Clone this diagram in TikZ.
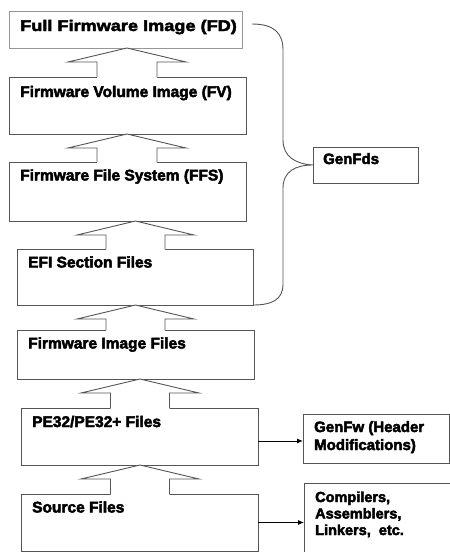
\documentclass[tikz,border=0pt]{standalone}
\usepackage{fontspec}
\usetikzlibrary{calc,arrows.meta}
\newfontfamily\lblfont{Liberation Sans}[FakeBold=3]
\newfontfamily\widefont{Liberation Sans}[FakeBold=3,FakeStretch=1.17]
\definecolor{linec}{RGB}{85,85,85}
\definecolor{lightline}{RGB}{150,150,150}
\tikzset{
  box/.style={draw=linec, line width=0.9pt, fill=white, inner sep=0pt, outer sep=0pt, anchor=north west},
  lbl/.style={font=\lblfont\bfseries\fontsize{15.5}{18}\selectfont, inner sep=0pt, anchor=base west},
  sidelbl/.style={font=\lblfont\bfseries\fontsize{15}{18}\selectfont, inner sep=0pt, anchor=base west},
  arrline/.style={draw=linec, line width=0.9pt, line join=miter},
  conn/.style={draw=black, line width=0.9pt, -{Latex[length=6pt,width=5pt]}},
}
% block arrow pointing up: #1 centre x, #2 head half width, #3 shaft half width,
% #4 upper node, #5 lower node
\newcommand\blockup[5]{%
  \fill[white] let \p1=(#4.south), \p2=(#5.north) in
    (#1pt,\y1) -- (#1pt-#2pt,\y1-14pt) -- (#1pt-#3pt,\y1-14pt) -- (#1pt-#3pt,\y2-1.2pt)
    -- (#1pt+#3pt,\y2-1.2pt) -- (#1pt+#3pt,\y1-14pt) -- (#1pt+#2pt,\y1-14pt) -- cycle;
  \draw[arrline] let \p1=(#4.south), \p2=(#5.north) in
    (#1pt-#3pt,\y2) -- (#1pt-#3pt,\y1-14pt) -- (#1pt-#2pt,\y1-14pt) -- (#1pt,\y1)
    -- (#1pt+#2pt,\y1-14pt) -- (#1pt+#3pt,\y1-14pt) -- (#1pt+#3pt,\y2);
}
\begin{document}
\begin{tikzpicture}[x=1pt,y=-1pt]
\useasboundingbox (0,0) rectangle (450,552);
\clip (0,0) rectangle (450,552);

% stack of build stages
\node[box, draw=lightline, minimum width=233pt, minimum height=37pt] (fd) at (9,11) {};
\node[box, minimum width=237pt, minimum height=57pt] (fv) at (9,77) {};
\node[box, minimum width=237pt, minimum height=59pt] (ffs) at (9,162) {};
\node[box, minimum width=236pt, minimum height=56pt] (efi) at (17,249) {};
\node[box, minimum width=237pt, minimum height=49pt] (fif) at (17,330) {};
\node[box, minimum width=237pt, minimum height=57pt] (pe) at (21,408) {};
\node[box, minimum width=237pt, minimum height=57pt] (sf) at (21,494) {};

% tools
\node[box, minimum width=105pt, minimum height=36pt] (gfds) at (313,147) {};
\node[box, minimum width=146pt, minimum height=49pt] (gfw) at (303,414) {};
\node[box, minimum width=160pt, minimum height=90pt] (comp) at (304,483) {};

% labels
\node[lbl, font=\widefont\bfseries\fontsize{15.5}{18}\selectfont] (fdt) at ($(fd.north west)+(11,20)$) {Full Firmware Image (FD)};
\node[lbl] (fvt) at ($(fv.north west)+(11,20)$) {Firmware Volume Image (FV)};
\node[lbl] (ffst) at ($(ffs.north west)+(11,18.5)$) {Firmware File System (FFS)};
\node[lbl] (efit) at ($(efi.north west)+(11,18.5)$) {EFI Section Files};
\node[lbl] (fift) at ($(fif.north west)+(11,18.5)$) {Firmware Image Files};
\node[lbl] (pet) at ($(pe.north west)+(11,19)$) {PE32/PE32+ Files};
\node[lbl] (sft) at ($(sf.north west)+(11,18.5)$) {Source Files};

\node[sidelbl] (gfdst) at ($(gfds.north west)+(10,17)$) {GenFds};
\node[sidelbl] (gfwa) at ($(gfw.north west)+(11,18)$) {GenFw (Header};
\node[sidelbl] (gfwb) at ($(gfw.north west)+(11,36)$) {Modifications)};
\node[sidelbl, font=\lblfont\bfseries\fontsize{14.5}{17}\selectfont] (cmpa) at ($(comp.north west)+(11,19)$) {Compilers,};
\node[sidelbl, font=\lblfont\bfseries\fontsize{14.5}{17}\selectfont] (cmpb) at ($(comp.north west)+(11,35.5)$) {Assemblers,};
\node[sidelbl, font=\lblfont\bfseries\fontsize{14.5}{17}\selectfont] (cmpc) at ($(comp.north west)+(11,52)$) {Linkers,\ \ etc.};

% block arrows between stages
\blockup{127}{59}{30}{fd}{fv}
\blockup{127}{59}{30}{fv}{ffs}
\blockup{135.5}{58.5}{29.5}{ffs}{efi}
\blockup{135.5}{58.5}{29.5}{efi}{fif}
\blockup{140}{59}{29.5}{fif}{pe}
\blockup{140}{59}{29.5}{pe}{sf}

% brace grouping the GenFds stages
\coordinate (bt) at (252,24);
\draw[arrline, line join=round] (bt) .. controls (274,24) and (283,33) .. (283,50)
  -- (283,140) .. controls (283,157) and (296,164) .. (gfds.west)
  .. controls (296,165) and (283,171) .. (283,188)
  -- (283,284) .. controls (283,299) and (273,305) .. (efi.south east);

% tool arrows
\draw[conn] ([yshift=-4.5pt]pe.east) -- ([yshift=-4.5pt]pe.east -| gfw.west);
\draw[conn] (sf.east) -- (sf.east -| comp.west);
\end{tikzpicture}
\end{document}
